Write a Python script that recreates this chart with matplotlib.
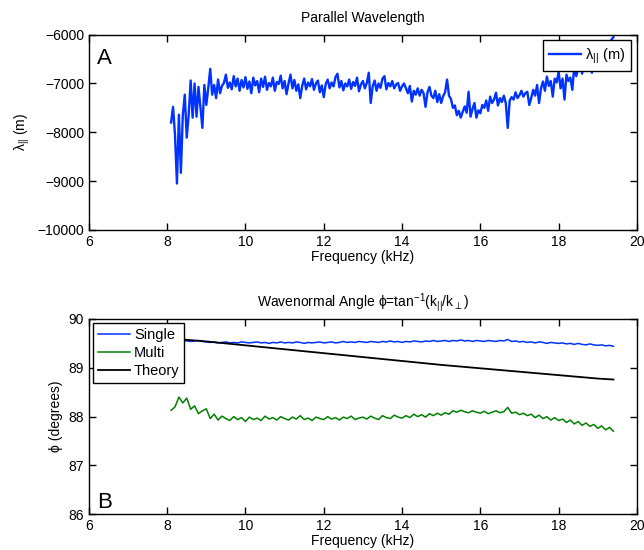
import numpy as np
import matplotlib
matplotlib.use("Agg")
import matplotlib.pyplot as plt

plt.rcParams['font.family'] = ['Liberation Sans', 'DejaVu Sans']
plt.rcParams['mathtext.fontset'] = 'custom'
plt.rcParams['mathtext.rm'] = 'Liberation Sans'
plt.rcParams['mathtext.it'] = 'Liberation Sans'
plt.rcParams['font.size'] = 10

# --- data ---
# top panel: parallel wavelength (m), sampled every 0.05 kHz from 8.1 to 19.4 kHz
lam_start, lam_stop = 8.1, 19.4
lam_par = [
    -7800, -7480, -8050, -9050, -7640, -8830, -7640, -7230, -8110, -7640,
    -6940, -7700, -7000, -7680, -7070, -7500, -7910, -7030, -7440, -7090,
    -6700, -7230, -7030, -7300, -6920, -7200, -7050, -6990, -6820, -7090,
    -6980, -7120, -6850, -7060, -6900, -7150, -6930, -7080, -6870, -7110,
    -6960, -7200, -6880, -7040, -6950, -7180, -6900, -7070, -6860, -7130,
    -6990, -7060, -6880, -7150, -6970, -7010, -6840, -7100, -6950, -7220,
    -7000, -6820, -7100, -6930, -7150, -7020, -7300, -7050, -6900, -7120,
    -6980, -7060, -6910, -7130, -7000, -6940, -7180, -7040, -7280, -7010,
    -6920, -7100, -6980, -7060, -6870, -6800, -7080, -6950, -7140, -7000,
    -7060, -6920, -7110, -6970, -7050, -6880, -7160, -7020, -6950, -7100,
    -6990, -6780, -7400, -7060, -6940, -7150, -7000, -7090, -6900, -6850,
    -7120, -6990, -7060, -6950, -7100, -7020, -6990, -7150, -7060, -7000,
    -7100, -7200, -7050, -7370, -7150, -7230, -7100, -7250, -7130, -7200,
    -7480, -7180, -7070, -7250, -7300, -7150, -7380, -7220, -7400, -7260,
    -7180, -6920, -7250, -7320, -7500, -7450, -7650, -7560, -7700, -7580,
    -7470, -7600, -7170, -7680, -7520, -7400, -7700, -7550, -7610, -7440,
    -7500, -7350, -7560, -7270, -7400, -7330, -7190, -7450, -7300, -7380,
    -7250, -7400, -7910, -7350, -7280, -7330, -7180, -7300, -7240, -7150,
    -7270, -7200, -7170, -7440, -7300, -7130, -7250, -7030, -7400, -7100,
    -6960, -7150, -6860, -7050, -6950, -7270, -6900, -6980, -6760, -7100,
    -6900, -7330, -6820, -6950, -6880, -7130, -6650, -6850, -6700, -6600,
    -6800, -6550, -6720, -6480, -6650, -6780, -6450, -6600, -6500, -6720,
    -6400, -6550, -6300, -6450, -6200, -6100, -6050,
]

# bottom panel: wavenormal angle (degrees), sampled every 0.1 kHz from 8.1 to 19.4 kHz
phi_start, phi_stop = 8.1, 19.4
phi_single = [
    89.58, 89.57, 89.56, 89.56, 89.55, 89.54, 89.55, 89.56, 89.54, 89.53,
    89.52, 89.53, 89.51, 89.52, 89.53, 89.51, 89.52, 89.51, 89.53, 89.52,
    89.51, 89.52, 89.53, 89.51, 89.52, 89.50, 89.52, 89.51, 89.53, 89.51,
    89.52, 89.51, 89.53, 89.52, 89.50, 89.52, 89.51, 89.52, 89.53, 89.51,
    89.52, 89.53, 89.51, 89.52, 89.54, 89.52, 89.53, 89.52, 89.54, 89.53,
    89.52, 89.54, 89.53, 89.52, 89.54, 89.53, 89.55, 89.53, 89.54, 89.52,
    89.54, 89.53, 89.55, 89.54, 89.53, 89.55, 89.54, 89.56, 89.54, 89.55,
    89.56, 89.54, 89.56, 89.55, 89.57, 89.55, 89.56, 89.54, 89.56, 89.55,
    89.54, 89.56, 89.55, 89.54, 89.56, 89.55, 89.58, 89.54, 89.55, 89.53,
    89.54, 89.52, 89.53, 89.51, 89.53, 89.52, 89.50, 89.52, 89.51, 89.50,
    89.51, 89.49, 89.50, 89.48, 89.50, 89.48, 89.47, 89.49, 89.47, 89.46,
    89.47, 89.45, 89.46, 89.44,
]
phi_multi = [
    88.13, 88.20, 88.40, 88.28, 88.38, 88.15, 88.22, 88.06, 88.12, 88.16,
    87.96, 88.05, 87.93, 88.01, 87.96, 87.92, 88.00, 87.94, 87.98, 87.90,
    87.99, 87.94, 87.97, 87.92, 88.01, 87.95, 87.98, 87.93, 88.00, 87.96,
    87.93, 87.99, 87.95, 88.02, 87.94, 87.97, 87.92, 87.99, 87.96, 87.94,
    88.00, 87.95, 87.98, 87.93, 87.99, 87.96, 88.01, 87.94, 87.97, 87.99,
    87.95, 88.01, 87.97, 87.94, 88.02, 87.98, 87.96, 88.03, 87.99, 87.97,
    88.02, 87.98, 88.05, 88.00, 88.04, 87.99, 88.06, 88.02, 88.07, 88.03,
    88.08, 88.05, 88.12, 88.09, 88.13, 88.10, 88.08, 88.12, 88.09, 88.07,
    88.11, 88.06, 88.09, 88.12, 88.08, 88.10, 88.19, 88.07, 88.09, 88.04,
    88.07, 88.02, 88.05, 87.98, 88.03, 87.96, 88.00, 87.93, 87.98, 87.92,
    87.95, 87.88, 87.93, 87.85, 87.90, 87.82, 87.87, 87.80, 87.84, 87.76,
    87.81, 87.73, 87.78, 87.70,
]
theory_freq = [8.1, 9, 10, 11, 12, 13, 14, 15, 16, 17, 18, 19, 19.4]
phi_theory = [89.60, 89.54, 89.46, 89.38, 89.30, 89.22, 89.14, 89.06,
              88.99, 88.92, 88.85, 88.78, 88.76]

blue = '#0033ff'
green = '#008000'

lam_freq = np.linspace(lam_start, lam_stop, len(lam_par))
phi_freq = np.linspace(phi_start, phi_stop, len(phi_single))


def style_axes(ax):
    ax.tick_params(direction='in', top=True, right=True, length=5,
                   width=1, labelsize=10)
    for s in ax.spines.values():
        s.set_linewidth(1.0)


fig = plt.figure(figsize=(6.44, 5.5), dpi=100)
ax1 = fig.add_axes([0.138, 0.582, 0.851, 0.355])
ax2 = fig.add_axes([0.138, 0.065, 0.851, 0.355])

# top panel
ax1.plot(lam_freq, lam_par, color=blue, lw=1.7, label=r'λ$_{||}$ (m)')
ax1.set_xlim(6, 20)
ax1.set_ylim(-10000, -6000)
ax1.set_xticks([6, 8, 10, 12, 14, 16, 18, 20])
ax1.set_yticks([-10000, -9000, -8000, -7000, -6000])
ax1.set_yticklabels(['\u221210000', '\u22129000', '\u22128000',
                     '\u22127000', '\u22126000'])
ax1.set_xlabel('Frequency (kHz)', labelpad=1)
ax1.set_ylabel(r'λ$_{||}$ (m)', labelpad=4)
ax1.set_title('Parallel Wavelength', fontsize=10, pad=9)
ax1.text(0.015, 0.93, 'A', transform=ax1.transAxes, va='top', ha='left',
         fontsize=16)
leg1 = ax1.legend(loc='upper right', fancybox=False, framealpha=1,
                  edgecolor='black', borderaxespad=0.4, handlelength=2.2,
                  handletextpad=0.3, borderpad=0.4, fontsize=10.5)
leg1.get_frame().set_linewidth(1.0)
style_axes(ax1)

# bottom panel
ax2.plot(phi_freq, phi_single, color=blue, lw=1.1, label='Single')
ax2.plot(phi_freq, phi_multi, color=green, lw=1.1, label='Multi')
ax2.plot(theory_freq, phi_theory, color='black', lw=1.3, label='Theory')
ax2.set_xlim(6, 20)
ax2.set_ylim(86, 90)
ax2.set_xticks([6, 8, 10, 12, 14, 16, 18, 20])
ax2.set_yticks([86, 87, 88, 89, 90])
ax2.set_xlabel('Frequency (kHz)', labelpad=1)
ax2.set_ylabel('ϕ (degrees)', labelpad=4)
ax2.set_title(r'Wavenormal Angle ϕ=tan$^{-1}$(k$_{||}$/k$_{\perp}$)',
              fontsize=10, pad=9)
ax2.text(0.015, 0.005, 'B', transform=ax2.transAxes, va='bottom', ha='left',
         fontsize=16)
leg2 = ax2.legend(loc='upper left', fancybox=False, framealpha=1,
                  edgecolor='black', borderaxespad=0.3, handlelength=2.2,
                  handletextpad=0.3, borderpad=0.3, labelspacing=0.3,
                  fontsize=10.5)
leg2.get_frame().set_linewidth(1.0)
style_axes(ax2)

fig.savefig('out.png', dpi=100)
